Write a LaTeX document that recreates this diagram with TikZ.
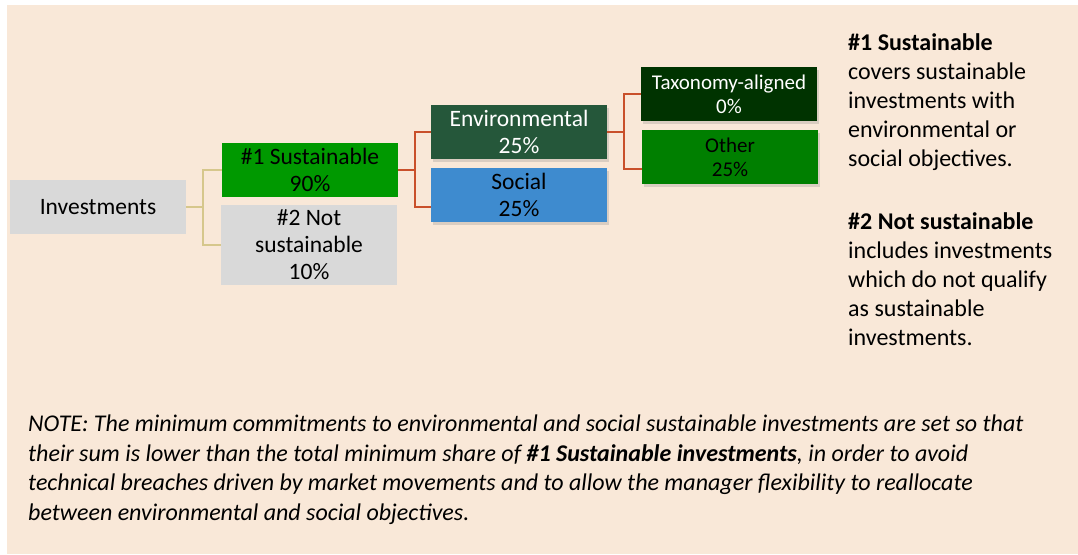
\documentclass[tikz,border=0pt]{standalone}
\usepackage{fontspec}
\setmainfont{Carlito}
\usetikzlibrary{shadows}
\definecolor{bgc}{HTML}{F9E8D8}
\definecolor{greyc}{HTML}{D9D9D9}
\definecolor{susc}{HTML}{009900}
\definecolor{envc}{HTML}{25573A}
\definecolor{socc}{HTML}{3E8BCF}
\definecolor{taxc}{HTML}{003300}
\definecolor{othc}{HTML}{007F00}
\definecolor{tanc}{HTML}{D6C78C}
\definecolor{redc}{HTML}{C9502B}
\tikzset{
  box/.style={minimum width=176pt, minimum height=54pt, inner sep=0pt, align=center,
    font=\fontsize{23.5}{27}\selectfont},
  smallbox/.style={box, font=\fontsize{21}{24}\selectfont},
  shad/.style={drop shadow={opacity=0.25, shadow xshift=2pt, shadow yshift=-3pt}},
  tanline/.style={draw=tanc, line width=2.2pt},
  redline/.style={draw=redc, line width=2.2pt},
  sidetext/.style={anchor=north west, inner sep=0pt, align=left, font=\fontsize{24}{29}\selectfont}
}
\begin{document}
\begin{tikzpicture}[x=1pt, y=-1pt]
\useasboundingbox (0,0) rectangle (1078,554);
\fill[white] (0,0) rectangle (1078,554);
\fill[bgc] (7,5) rectangle (1078,554);

\node[box, fill=greyc] (inv) at (98,207) {Investments};
\node[box, fill=susc] (sus1) at (310,170) {\#1 Sustainable\\90\%};
\node[box, fill=greyc, minimum height=80pt] (sus2) at (309,245) {\#2 Not\\sustainable\\10\%};
\node[box, shad, fill=envc, text=white] (env) at (519,132) {Environmental\\25\%};
\node[box, shad, fill=socc] (soc) at (519,195) {Social\\25\%};
\node[smallbox, shad, fill=taxc, text=white] (tax) at (729,94) {Taxonomy-aligned\\0\%};
\node[smallbox, shad, fill=othc] (oth) at (730,157) {Other\\25\%};

\coordinate (socin) at ([yshift=-12pt]soc.west);
\coordinate (othin) at ([yshift=-12pt]oth.west);

\draw[tanline] (inv.east) -- ++(17,0) |- (sus1.west);
\draw[tanline] (inv.east) -- ++(17,0) |- (sus2.west);
\draw[redline] (sus1.east) -- ++(17,0) |- (env.west);
\draw[redline] (sus1.east) -- ++(17,0) |- (socin);
\draw[redline] (env.east) -- ++(17,0) |- (tax.west);
\draw[redline] (env.east) -- ++(17,0) |- (othin);

\node[sidetext] (side1) at (848,33) {\textbf{\#1 Sustainable}\\covers sustainable\\investments with\\environmental or\\social objectives.};
\node[sidetext] (side2) at (848,212) {\textbf{\#2 Not sustainable}\\includes investments\\which do not qualify\\as sustainable\\investments.};

\node[sidetext, font=\fontsize{24}{29.5}\selectfont\itshape] (note) at (28,415) {NOTE: The minimum commitments to environmental and social sustainable investments are set so that\\their sum is lower than the total minimum share of \textbf{\#1 Sustainable investments}, in order to avoid\\technical breaches driven by market movements and to allow the manager flexibility to reallocate\\between environmental and social objectives.};
\end{tikzpicture}
\end{document}
